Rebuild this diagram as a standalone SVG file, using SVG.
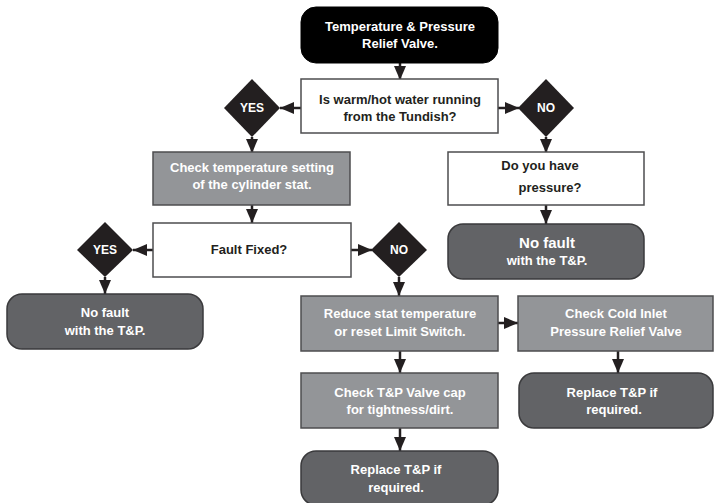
<svg xmlns="http://www.w3.org/2000/svg" width="714" height="503" viewBox="0 0 714 503">
<defs>
<marker id="ah" markerUnits="userSpaceOnUse" markerWidth="16" markerHeight="16" viewBox="0 0 16 16" refX="15" refY="8" orient="auto">
<path d="M1,2 L15,8 L1,14 Z" fill="#231f20"/>
</marker>
<style>
text{font-family:"Liberation Sans",Arial,sans-serif;font-weight:bold;font-size:13px;text-anchor:middle}
.w{fill:#fff}
.k{fill:#231f20}
.white{fill:#fff;stroke:#4d4d4f;stroke-width:1.5}
.grey{fill:#939598;stroke:#4d4d4f;stroke-width:1.5}
.dark{fill:#626366;stroke:#3a3a3c;stroke-width:1.5}
.black{fill:#000;stroke:#000;stroke-width:1}
.dia{fill:#231f20}
.conn line{stroke:#231f20;stroke-width:2.5;marker-end:url(#ah)}
</style>
</defs>
<rect width="714" height="503" fill="#fff"/>
<g class="conn" id="connectors">
<line x1="400" y1="63" x2="400" y2="80"/>
<line x1="301" y1="108" x2="280" y2="108"/>
<line x1="498" y1="108" x2="519" y2="108"/>
<line x1="252" y1="137" x2="252" y2="153"/>
<line x1="546" y1="137" x2="546" y2="153"/>
<line x1="252" y1="205" x2="252" y2="223"/>
<line x1="153" y1="250" x2="133" y2="250"/>
<line x1="351" y1="250" x2="372" y2="250"/>
<line x1="105" y1="277" x2="105" y2="294"/>
<line x1="546" y1="205" x2="546" y2="224"/>
<line x1="399" y1="277" x2="399" y2="296"/>
<line x1="498" y1="323" x2="518" y2="323"/>
<line x1="400" y1="351" x2="400" y2="373"/>
<line x1="618" y1="351" x2="618" y2="373"/>
<line x1="400" y1="428" x2="400" y2="451"/>
</g>
<g id="start">
<rect class="black" x="301" y="7" width="197" height="56" rx="15"/>
<text class="w" x="400" y="31">Temperature &amp; Pressure</text>
<text class="w" x="400" y="48">Relief Valve.</text>
</g>
<g id="q1">
<rect class="white" x="301" y="79" width="197" height="54"/>
<text class="k" x="400" y="104">Is warm/hot water running</text>
<text class="k" x="400" y="121">from the Tundish?</text>
</g>
<g id="yes1">
<path class="dia" d="M252,79 L280,108 L252,137 L224,108 Z"/>
<text class="w" x="252" y="112" style="font-size:12px">YES</text>
</g>
<g id="no1">
<path class="dia" d="M546,79 L574,108 L546,137 L518,108 Z"/>
<text class="w" x="546" y="112" style="font-size:12px">NO</text>
</g>
<g id="checkTemp">
<rect class="grey" x="153" y="152" width="197" height="53"/>
<text class="w" x="252" y="172">Check temperature setting</text>
<text class="w" x="252" y="189">of the cylinder stat.</text>
</g>
<g id="pressure">
<rect class="white" x="448" y="152" width="196" height="53"/>
<text class="k" x="540" y="170">Do you have</text>
<text class="k" x="550" y="192">pressure?</text>
</g>
<g id="faultFixed">
<rect class="white" x="153" y="223" width="198" height="54"/>
<text class="k" x="249" y="254">Fault Fixed?</text>
</g>
<g id="yes2">
<path class="dia" d="M105,222 L133,250 L105,277 L77,250 Z"/>
<text class="w" x="105" y="254" style="font-size:12px">YES</text>
</g>
<g id="no2">
<path class="dia" d="M399,222 L427,250 L399,277 L371,250 Z"/>
<text class="w" x="399" y="254" style="font-size:12px">NO</text>
</g>
<g id="noFaultLeft">
<rect class="dark" x="7" y="294" width="196" height="55" rx="15"/>
<text class="w" x="105" y="317">No fault</text>
<text class="w" x="105" y="335">with the T&amp;P.</text>
</g>
<g id="noFaultRight">
<rect class="dark" x="448" y="224" width="196" height="55" rx="15"/>
<text class="w" x="547" y="248" style="font-size:15px">No fault</text>
<text class="w" x="547" y="265">with the T&amp;P.</text>
</g>
<g id="reduceStat">
<rect class="grey" x="301" y="296" width="197" height="55"/>
<text class="w" x="400" y="318">Reduce stat temperature</text>
<text class="w" x="400" y="336">or reset Limit Switch.</text>
</g>
<g id="coldInlet">
<rect class="grey" x="518" y="296" width="195" height="55"/>
<text class="w" x="616" y="318">Check Cold Inlet</text>
<text class="w" x="616" y="336">Pressure Relief Valve</text>
</g>
<g id="valveCap">
<rect class="grey" x="301" y="373" width="197" height="55"/>
<text class="w" x="400" y="397">Check T&amp;P Valve cap</text>
<text class="w" x="400" y="414">for tightness/dirt.</text>
</g>
<g id="replaceRight">
<rect class="dark" x="519" y="373" width="194" height="55" rx="15"/>
<text class="w" x="612" y="397">Replace T&amp;P if</text>
<text class="w" x="614" y="414">required.</text>
</g>
<g id="replaceBottom">
<rect class="dark" x="301" y="451" width="197" height="54" rx="15"/>
<text class="w" x="396" y="474">Replace T&amp;P if</text>
<text class="w" x="396" y="492">required.</text>
</g>
</svg>
